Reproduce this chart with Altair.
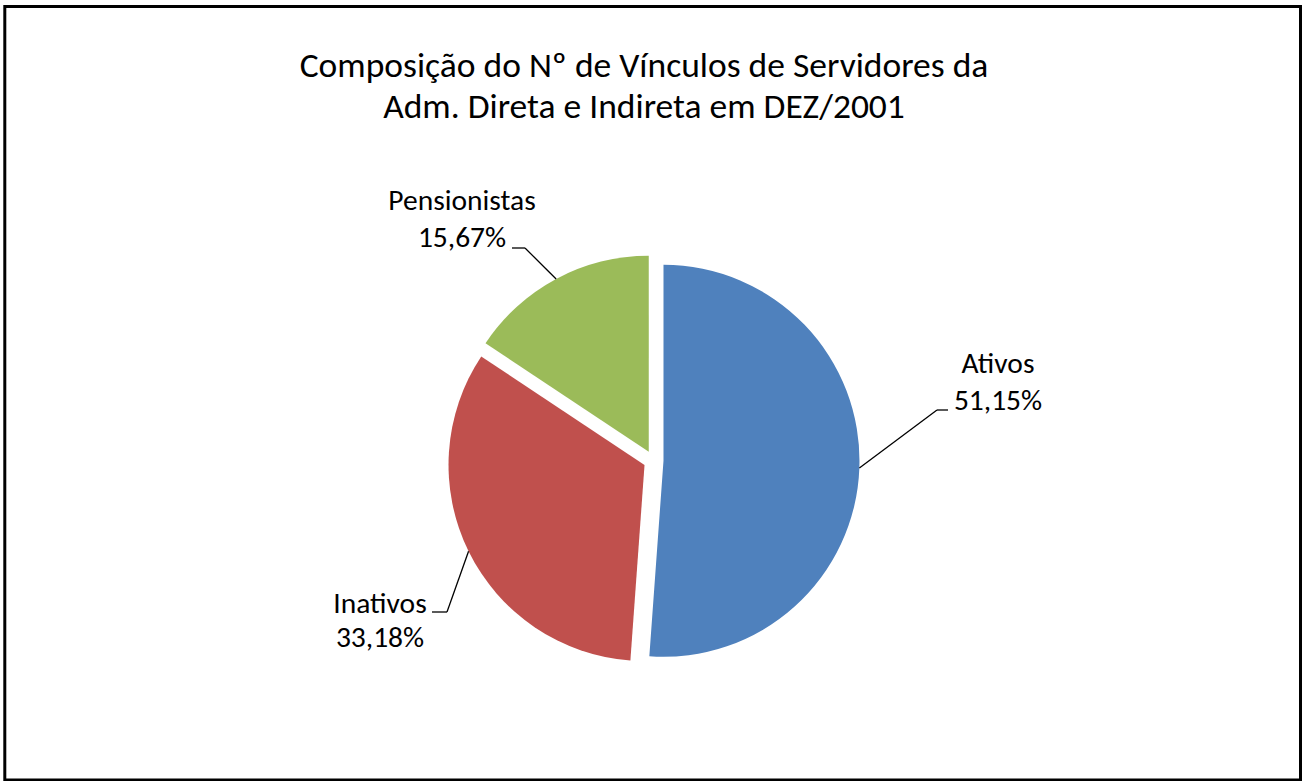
import altair as alt
import pandas as pd

# ---- data ----
categories = ["Ativos", "Inativos", "Pensionistas"]
shares = [51.15, 33.18, 15.67]
colors = ["#4F81BD", "#C0504D", "#9BBB59"]
title_lines = ["Composição do Nº de Vínculos de Servidores da",
               "Adm. Direta e Indireta em DEZ/2001"]

# ---- layout (pixels) ----
W, H = 1303, 781
CX, CY, R, EXPLODE = 653.5, 460.5, 196, 10
label_x = [998, 380, 462]
name_y = [373, 613, 210]
pct_y = [410, 647, 247]
elbow_x = [937, 447, 525]
elbow_y = [410, 612, 248]
end_x = [948, 432, 512]
title_x = 644
title_y = [77, 118]
FONT = "Carlito, Calibri, Lato, sans-serif"

df = pd.DataFrame({
    "category": categories,
    "share": shares,
    "order": list(range(len(categories))),
    "lx": label_x, "ny": name_y, "py": pct_y,
    "bx": elbow_x, "by": elbow_y, "qx": end_x,
})

base = (
    alt.Chart(df)
    .transform_joinaggregate(total="sum(share)")
    .transform_window(cum="sum(share)", sort=[alt.SortField("order")], frame=[None, 0])
    .transform_calculate(t0="2*PI*(datum.cum - datum.share)/datum.total",
                         t1="2*PI*datum.cum/datum.total")
    .transform_calculate(tm="(datum.t0 + datum.t1)/2")
    .transform_calculate(cx=f"{CX} + {EXPLODE}*sin(datum.tm)",
                         cy=f"{CY} - {EXPLODE}*cos(datum.tm)")
    .transform_calculate(ex=f"datum.cx + {R}*sin(datum.tm)",
                         ey=f"datum.cy - {R}*cos(datum.tm)",
                         pct="replace(format(datum.share, '.2f'), '.', ',') + '%'")
)

arcs = base.mark_arc(radius=R).encode(
    theta=alt.Theta("t0:Q", scale=None, stack=False),
    theta2="t1:Q",
    x=alt.X("cx:Q", scale=None),
    y=alt.Y("cy:Q", scale=None),
    color=alt.Color("category:N", scale=alt.Scale(domain=categories, range=colors), legend=None),
)

diag = base.mark_rule(color="black", strokeWidth=1.3).encode(
    x=alt.X("ex:Q", scale=None), y=alt.Y("ey:Q", scale=None),
    x2="bx:Q", y2="by:Q",
)
horiz = base.mark_rule(color="black", strokeWidth=1.3).encode(
    x=alt.X("bx:Q", scale=None), y=alt.Y("by:Q", scale=None),
    x2="qx:Q", y2="by:Q",
)

names = base.mark_text(font=FONT, fontSize=29.5, align="center", baseline="alphabetic", color="black").encode(
    x=alt.X("lx:Q", scale=None), y=alt.Y("ny:Q", scale=None), text="category:N")
pcts = base.mark_text(font=FONT, fontSize=29.5, align="center", baseline="alphabetic", color="black").encode(
    x=alt.X("lx:Q", scale=None), y=alt.Y("py:Q", scale=None), text="pct:N")

tdf = pd.DataFrame({"line": title_lines, "ty": title_y})
title = alt.Chart(tdf).mark_text(font=FONT, fontSize=35.5, align="center", baseline="alphabetic", color="black").encode(
    x=alt.value(title_x), y=alt.Y("ty:Q", scale=None), text="line:N")

border = alt.Chart(pd.DataFrame({"a": [0]})).mark_rect(filled=False, color="black", strokeWidth=3).encode(
    x=alt.value(4.8), x2=alt.value(1300.5), y=alt.value(6.5), y2=alt.value(780))

chart = alt.layer(border, arcs, diag, horiz, names, pcts, title).properties(
    width=W, height=H, padding=0, autosize="none", background="white"
).configure_view(stroke=None)

chart.save("out.html", embed_options={"renderer": "svg", "actions": False})
